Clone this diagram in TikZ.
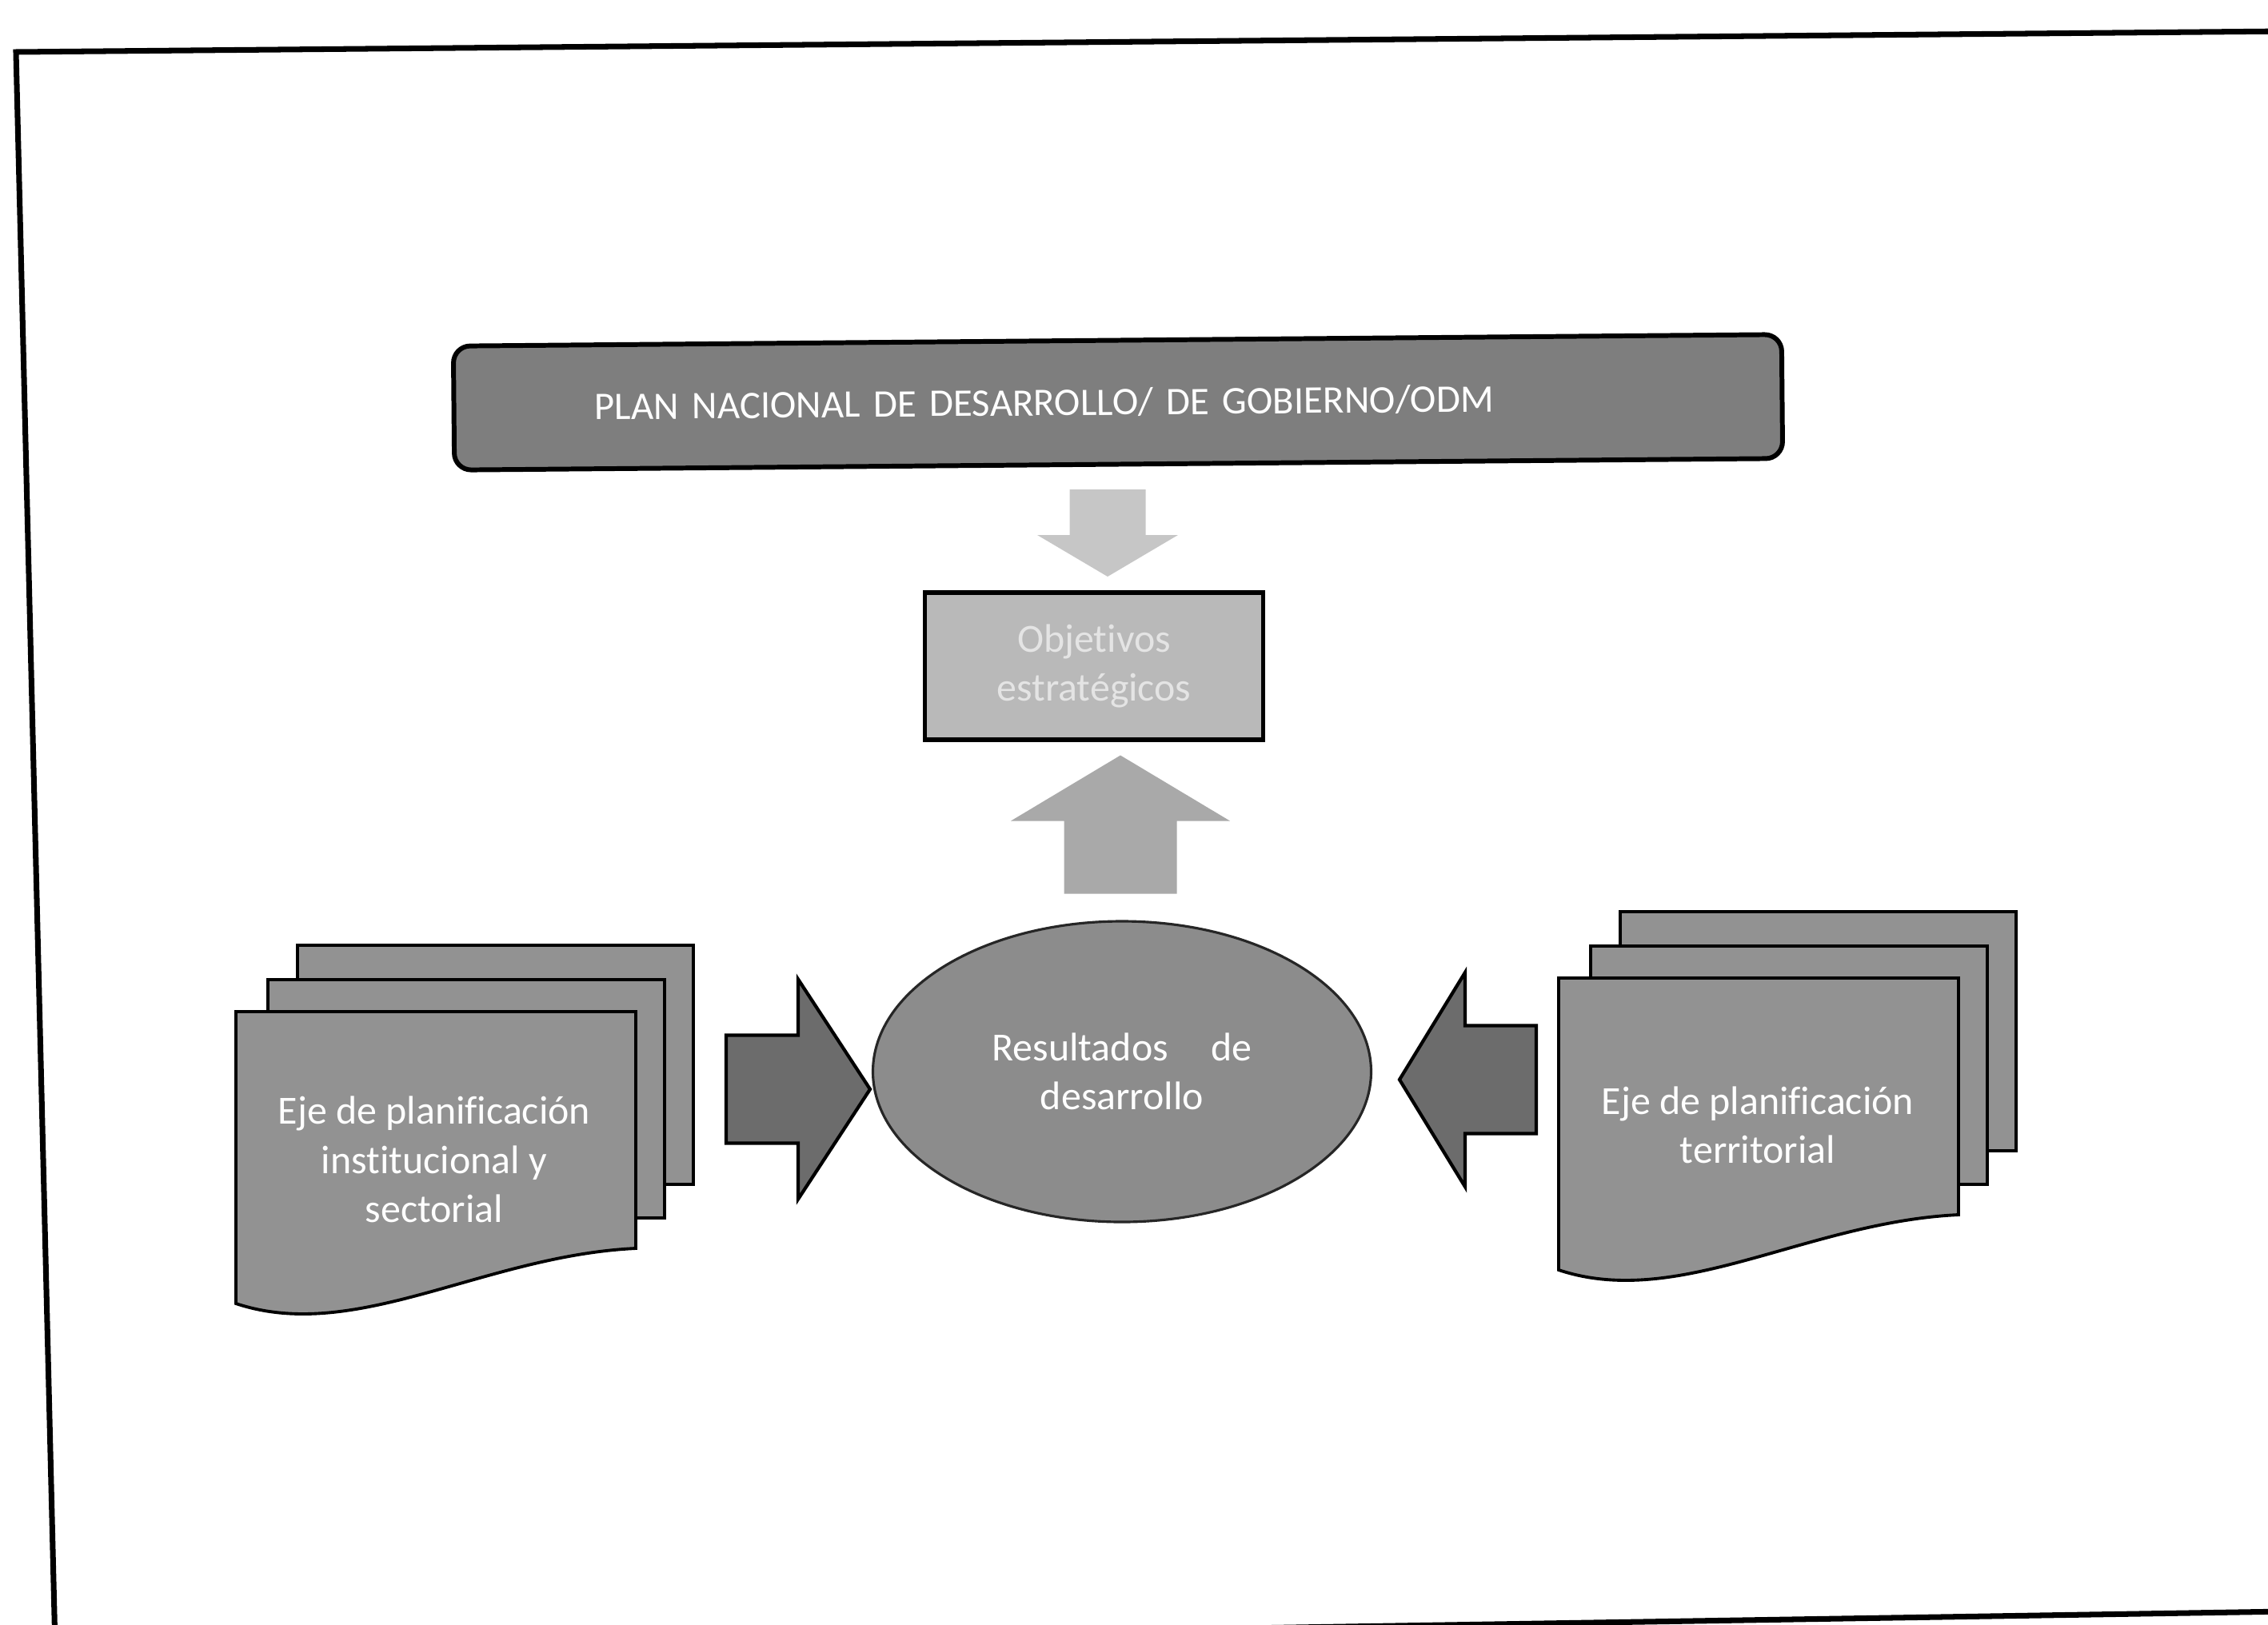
\documentclass[tikz,border=0pt]{standalone}
\usepackage{fontspec}
\newfontfamily\carlito[Ligatures=NoCommon]{Carlito}
\usepackage{tikz}
\usetikzlibrary{positioning, shapes.geometric}

\definecolor{plangray}{HTML}{7E7E7E}
\definecolor{objgray}{HTML}{B9B9B9}
\definecolor{objtext}{HTML}{E4E4E4}
\definecolor{dngray}{HTML}{C6C6C6}
\definecolor{upgray}{HTML}{A9A9A9}
\definecolor{resgray}{HTML}{8C8C8C}
\definecolor{sidegray}{HTML}{6C6C6C}
\definecolor{docgray}{HTML}{929292}

% block arrow: style, centre, angle, length, shaft width, head width, head length
\newcommand{\fatarrow}[7]{%
  \begin{scope}[shift={(#2)}, rotate=#3]
    \path[#1] (-#4/2,-#5/2) -- (#4/2-#7,-#5/2) -- (#4/2-#7,-#6/2)
      -- (#4/2,0) -- (#4/2-#7,#6/2) -- (#4/2-#7,#5/2) -- (-#4/2,#5/2) -- cycle;
  \end{scope}}

\tikzset{
  docsheet/.style = {fill=docgray, draw=black, line width=1.1pt},
  multidoc/.pic = {
    \path[docsheet] (0.77,0.83) rectangle (5.72,-2.16);
    \path[docsheet] (0.40,0.40) rectangle (5.36,-2.58);
    \path[docsheet] (0,0) -- (5.0,0) -- (5.0,-2.96)
      .. controls (3.1,-3.05) and (1.5,-4.15) .. (0,-3.65) -- cycle;
  }
}

\begin{document}
\begin{tikzpicture}[
  every node/.style = {font=\carlito\fontsize{14.2}{17.5}\selectfont, text=white},
  frame/.style   = {line width=2pt, black},
  planbox/.style = {rectangle, rounded corners=6pt,
                    draw=black, line width=1.7pt, fill=plangray,
                    minimum height=1.55cm, inner xsep=1.76cm,
                    text width=13.09cm, align=left,
                    font=\carlito\fontsize{13.9}{17}\selectfont},
  objbox/.style  = {rectangle, draw=black, line width=1.6pt, fill=objgray,
                    minimum width=4.23cm, minimum height=1.84cm,
                    text=objtext, align=center},
  resell/.style  = {ellipse, draw=black!85, line width=0.9pt, fill=resgray,
                    minimum width=6.23cm, minimum height=3.76cm,
                    inner sep=0pt, align=center},
  doctext/.style = {align=center},
  dnarr/.style   = {fill=dngray},
  uparr/.style   = {fill=upgray},
  sidearr/.style = {fill=sidegray, draw=black, line width=1.2pt},
]
\useasboundingbox (0,0) rectangle (28.36,-20.31);

%% ══ page frame ══════════════════════════════════════════════════════════
\begin{scope}
  \clip (0,0) rectangle (28.36,-20.31);
  \draw[frame] (0.69,-20.60) -- (0.20,-0.65) -- (28.60,-0.39);
  \draw[frame] (10,-20.45) -- (28.60,-20.15);
\end{scope}

%% ══ TOP: plan → objetivos ← resultados ══════════════════════════════════
\node[planbox, rotate=0.5] at (13.98, -5.03) (plan)
  {PLAN NACIONAL DE DESARROLLO/ DE GOBIERNO/ODM};

\coordinate (dnArr) at (13.85, -6.665);
\fatarrow{dnarr}{dnArr}{-90}{1.09}{0.95}{1.76}{0.52}

\node[objbox] at (13.68, -8.33) (obj) {Objetivos\\estratégicos};

\coordinate (upArr) at (14.01, -10.31);
\fatarrow{uparr}{upArr}{90}{1.73}{1.41}{2.74}{0.82}

\node[resell] at (14.03, -13.40) (res) {Resultados\hspace{12pt} de\\desarrollo};

%% ══ BOTTOM: the two planning axes ═══════════════════════════════════════
\pic at (2.95, -12.65) {multidoc};
\node[doctext] at (5.43, -14.50) (ejeInst)
  {Eje de planificación\\institucional y\\sectorial};

\coordinate (leftArr) at (9.98, -13.62);
\fatarrow{sidearr}{leftArr}{0}{1.80}{1.35}{2.75}{0.90}

\pic at (19.49, -12.23) {multidoc};
\node[doctext] at (21.98, -14.07) (ejeTerr)
  {Eje de planificación\\territorial};

\coordinate (rightArr) at (18.355, -13.50);
\fatarrow{sidearr}{rightArr}{180}{1.71}{1.35}{2.68}{0.82}

\end{tikzpicture}
\end{document}
